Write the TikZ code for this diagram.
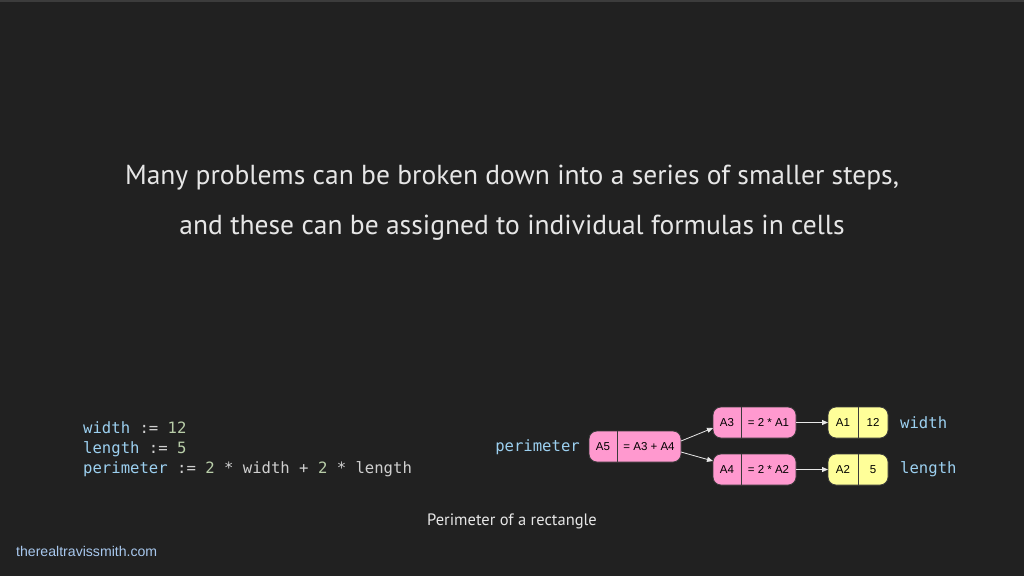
\documentclass[tikz,border=0pt]{standalone}
\usepackage{fontspec}
\setmainfont{PT Sans}
\newfontfamily\codefont{DejaVu Sans Mono}
\newfontfamily\boxfont{Liberation Sans}
\usetikzlibrary{arrows.meta,calc}
\definecolor{bg}{HTML}{212121}
\definecolor{topline}{HTML}{3C3C3C}
\definecolor{maintext}{HTML}{E6E6E6}
\definecolor{ident}{HTML}{9CD0F0}
\definecolor{oper}{HTML}{D0D0D0}
\definecolor{num}{HTML}{B8CDA8}
\definecolor{pinkc}{HTML}{FF99CF}
\definecolor{yellowc}{HTML}{FFFF99}
\definecolor{outl}{HTML}{3A3A3A}
\definecolor{arrowc}{HTML}{E8E8E8}
\definecolor{footc}{HTML}{A8C8EE}
\begin{document}
\begin{tikzpicture}[x=1pt,y=-1pt,
  cell/.style={draw=outl,line width=0.8pt,rounded corners=8pt},
  celltext/.style={font=\boxfont\fontsize{11.5}{14}\selectfont,text=black,inner sep=0pt},
  link/.style={draw=arrowc,line width=0.8pt,-{Triangle[length=6pt,width=5pt]}},
  codeline/.style={anchor=base west,inner sep=0pt,font=\codefont\fontsize{15.6}{18}\selectfont},
  varlabel/.style={inner sep=0pt,font=\codefont\fontsize{15.6}{18}\selectfont,text=ident}]
\fill[bg] (0,0) rectangle (1024,576);
\fill[topline] (0,0) rectangle (1024,1.5);
\useasboundingbox (0,0) rectangle (1024,576);
% title
\node[text=maintext,font=\fontsize{27.5}{32}\selectfont,inner sep=0pt] (t1) at (512,178) {Many problems can be broken down into a series of smaller steps,};
\node[text=maintext,font=\fontsize{27.5}{32}\selectfont,inner sep=0pt] (t2) at (512,228) {and these can be assigned to individual formulas in cells};
% code
\node[codeline] (c1) at (83,433) {\textcolor{ident}{width} \textcolor{oper}{:=} \textcolor{num}{12}};
\node[codeline] (c2) at (83,453) {\textcolor{ident}{length} \textcolor{oper}{:=} \textcolor{num}{5}};
\node[codeline] (c3) at (83,473) {\textcolor{ident}{perimeter} \textcolor{oper}{:=} \textcolor{num}{2} \textcolor{oper}{* width +} \textcolor{num}{2} \textcolor{oper}{* length}};
% cells
\path[cell,fill=pinkc] (589,431) rectangle (681,462);
\draw[outl,line width=0.8pt] (617,431) -- (617,462);
\node[celltext] (a5) at (603,446.5) {A5};
\node[celltext] (a5f) at (649,446.5) {= A3 + A4};
\coordinate (a5r1) at (681,441);
\coordinate (a5r2) at (681,452);

\path[cell,fill=pinkc] (713,407) rectangle (796,438);
\draw[outl,line width=0.8pt] (741,407) -- (741,438);
\node[celltext] (a3) at (727,422.5) {A3};
\node[celltext] (a3f) at (768.5,422.5) {= 2 * A1};
\coordinate (a3l) at (713,428);
\coordinate (a3r) at (796,422.5);

\path[cell,fill=pinkc] (713,454) rectangle (796,485);
\draw[outl,line width=0.8pt] (741,454) -- (741,485);
\node[celltext] (a4) at (727,469.5) {A4};
\node[celltext] (a4f) at (768.5,469.5) {= 2 * A2};
\coordinate (a4l) at (713,461);
\coordinate (a4r) at (796,469.5);

\path[cell,fill=yellowc] (828,407) rectangle (888,438);
\draw[outl,line width=0.8pt] (858,407) -- (858,438);
\node[celltext] (a1) at (843,422.5) {A1};
\node[celltext] (a1v) at (873,422.5) {12};
\coordinate (a1l) at (828,422.5);

\path[cell,fill=yellowc] (828,454) rectangle (888,485);
\draw[outl,line width=0.8pt] (858,454) -- (858,485);
\node[celltext] (a2) at (843,469.5) {A2};
\node[celltext] (a2v) at (873,469.5) {5};
\coordinate (a2l) at (828,469.5);

\draw[link] (a5r1) -- (a3l);
\draw[link] (a5r2) -- (a4l);
\draw[link] (a3r) -- (a1l);
\draw[link] (a4r) -- (a2l);

\node[varlabel,anchor=east] (lp) at (580,447) {perimeter};
\node[varlabel,anchor=west] (lw) at (900,422.5) {width};
\node[varlabel,anchor=west] (ll) at (900,469.5) {length};

\node[text=maintext,font=\fontsize{16.5}{19}\selectfont,inner sep=0pt] (cap) at (512,521) {Perimeter of a rectangle};
\node[text=footc,font=\boxfont\fontsize{14.1}{16}\selectfont,inner sep=0pt,anchor=west] (foot) at (16,551) {therealtravissmith.com};
\end{tikzpicture}
\end{document}
